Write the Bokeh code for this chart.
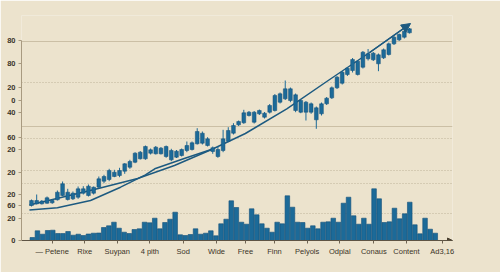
from bokeh.plotting import figure
from bokeh.models import (Range1d, FixedTicker, LinearAxis, Grid, Arrow,
                          NormalHead, ColumnDataSource)
from bokeh.embed import file_html
from bokeh.resources import INLINE

# ---------------- data ----------------
# candles: high, body top, body bottom, low
c_high = [41, 46, 40.5, 44, 41, 50, 59, 51.7, 49, 54, 54.3, 56, 54, 64, 65.7, 71.7, 70.7, 72.7,
          77.3, 80.7, 88.3, 89.5, 95, 92, 94.5, 93.5, 95, 91.7, 90.5, 92, 99, 99, 112.3, 109,
          103.3, 94, 94, 110.7, 113.3, 117.3, 120, 130.7, 129.5, 129.5, 131, 128.5, 136.5,
          146.5, 148, 160, 153, 147, 141, 139.5, 138, 134, 138, 143.5, 154, 164.5, 169.5,
          173.5, 182.5, 180.5, 189.5, 191.5, 188.5, 187, 192, 198, 204.5, 207, 210.5, 212.5]
c_top = [40, 40, 39.3, 42.7, 40, 48.3, 56.7, 48.3, 47.3, 51.7, 51.7, 54.3, 53.3, 61.7, 64, 70,
         68.3, 70, 76.7, 79, 87.3, 88.3, 94, 90.7, 93.3, 92.3, 94, 90, 89.3, 91, 95, 97.7, 109,
         107.3, 101.7, 92.7, 91, 101.7, 110, 115, 119, 127.7, 128.3, 128.3, 130, 127.3, 135,
         145, 146.7, 151.7, 151.7, 145.7, 140, 138.3, 136.7, 132.7, 136.7, 142.3, 152.7, 163.3,
         168.3, 172.3, 181, 179.3, 188.3, 186.7, 187.3, 185.7, 190.7, 196.7, 203.3, 206, 209.3,
         211.7]
c_bot = [35, 36.7, 36.7, 37.3, 37.7, 40.7, 45, 41, 41.7, 43.3, 47.3, 45, 47.3, 53.3, 59.3, 61,
         64, 65, 69.3, 73.3, 78.3, 81.7, 81.7, 87.3, 86.7, 86.7, 84, 80.7, 83.3, 85, 90, 91, 96.7,
         97.3, 95, 89, 84, 90, 99.3, 107.3, 115.7, 117.7, 125, 118.3, 126.7, 123.3, 128.3, 130,
         138.3, 141.7, 140, 130, 128.3, 128.3, 128.3, 120.7, 126.7, 136.7, 142.7, 152.7, 157.3,
         166, 170, 166, 173.3, 181.7, 180.7, 176.7, 182.7, 186, 196.7, 200.7, 203.3, 207.7]
c_low = [34, 36, 36, 36.7, 36.7, 40, 44.3, 40, 40.5, 41.7, 46, 44, 46, 52.7, 57.3, 59.3, 63.3,
         63.3, 66.7, 71.7, 77.3, 81, 80.7, 86, 86, 86, 82.7, 79.3, 82.5, 84, 88.3, 90, 96, 96, 94,
         86.7, 82.7, 88.3, 98.3, 106, 114.5, 116.7, 124, 117, 125.5, 122, 127, 129, 137, 140.5,
         138.3, 128.3, 127.3, 120, 126.7, 111.7, 125, 135.5, 141.5, 151.5, 156, 164.5, 168, 165,
         172, 180, 179.5, 169.3, 181.5, 185, 195.5, 199.5, 202, 207]
c_x = list(range(len(c_high)))

# volume bars
volume = [3, 9.7, 6.3, 10, 10.3, 7, 7, 9, 5.3, 6.3, 5, 6.5, 7.3, 7.5, 13, 14.7, 18.3, 12.3, 8.3,
          7, 11, 11.7, 18.3, 17.7, 22.3, 11.7, 18, 21.3, 28.3, 5.7, 5, 6, 11.7, 6.3, 7.3, 9.7,
          4.7, 16.7, 21.3, 39.7, 33, 18.3, 16.3, 31.7, 25.7, 16.7, 12.3, 8.3, 18.3, 16.7, 44.7,
          33.3, 18.3, 18, 12.3, 14.7, 11.7, 18.3, 18.7, 22.3, 18.3, 37.3, 43.3, 24.7, 16.3, 22.3,
          16.3, 51.7, 41.7, 18, 18.7, 32.3, 21.7, 26.7, 38.3, 15.7, 6.7, 22.3, 11.3, 7.3]
v_x = list(range(len(volume)))

# trend lines (candle index, value)
trend1_x = [-0.4, 5.3, 12.9, 20.5, 27.6, 35]
trend1_y = [35.5, 42.5, 52, 62, 75, 91.5]
trend2_x = [-0.4, 5, 11.4, 17.2, 22, 23.8, 29.5, 35, 41.3, 49.3, 57.3, 65.3, 72.4]
trend2_y = [30.5, 32.7, 40, 53.3, 65.7, 71.7, 82, 91.5, 107, 131.7, 160, 188, 214]

# axis labels
x_labels = ["— Petene", "Rixe", "Suypan", "4 pith", "Sod", "Wide", "Free", "Finn",
            "Pelyols", "Odplal", "Conaus", "Content", "Ad3,16"]
y_labels = ["80", "80", "20", "0", "40", "60", "20", "20", "20", "60", "20", "0"]

# ---------------- layout ----------------
x_tick_pos = [3.89, 10.28, 16.64, 23.03, 29.58, 36.1, 41.79, 47.48, 53.89, 60.28, 66.95,
              73.36, 80.36]
y_tick_pos = [200, 177, 153, 140, 128, 103, 91, 68, 46, 35, 22, 0]
solid_grid = [199, 114]
dotted_grid = [158, 102, 70, 57, 27]

BG = "#ece3cd"
BLUE = "#1c6a98"
EDGE = "#134f78"
LINE = "#1d5a80"
TXT = "#3b3328"

p = figure(width=500, height=272, output_backend="svg", toolbar_location=None,
           x_axis_type=None, y_axis_type=None,
           x_range=Range1d(-1.931, 81.3), y_range=Range1d(0, 225),
           min_border_left=21, min_border_right=48, min_border_top=15, min_border_bottom=32,
           background_fill_color=BG, border_fill_color=BG, outline_line_color=None)
p.extra_x_ranges = {"bars": Range1d(-2.127, 82.38)}

# grid lines
g1 = Grid(dimension=1, ticker=FixedTicker(ticks=solid_grid),
          grid_line_color="#cbbfa5", grid_line_width=1)
g2 = Grid(dimension=1, ticker=FixedTicker(ticks=dotted_grid),
          grid_line_color="#bfb398", grid_line_width=1, grid_line_dash="1 2")
p.add_layout(g1)
p.add_layout(g2)

# volume bars
vsrc = ColumnDataSource(dict(x=v_x, vol=volume))
p.vbar(x="x", top="vol", bottom=0, width=0.9, source=vsrc, x_range_name="bars",
       fill_color=BLUE, line_color=EDGE, line_width=0.6)

# trend lines
p.line(trend1_x, trend1_y, line_color=LINE, line_width=1.5)
p.line(trend2_x, trend2_y, line_color=LINE, line_width=1.5)
p.add_layout(Arrow(end=NormalHead(size=9, fill_color=LINE, line_color=LINE),
                   x_start=trend2_x[-2], y_start=trend2_y[-2],
                   x_end=trend2_x[-1] + 0.8, y_end=trend2_y[-1] + 3,
                   line_color=LINE, line_width=1.5))

# candles
csrc = ColumnDataSource(dict(x=c_x, high=c_high, low=c_low, top=c_top, bot=c_bot))
p.segment(x0="x", y0="low", x1="x", y1="high", source=csrc, line_color=BLUE, line_width=1)
p.vbar(x="x", top="top", bottom="bot", width=0.72, source=csrc,
       fill_color=BLUE, line_color=EDGE, line_width=0.5)

# axes
yaxis = LinearAxis(ticker=FixedTicker(ticks=y_tick_pos),
                   major_label_overrides={t: l for t, l in zip(y_tick_pos, y_labels)},
                   bounds=(0, 200))
yaxis.axis_line_color = "#a89a80"
yaxis.major_tick_line_color = "#a89a80"
yaxis.major_tick_out = 3
yaxis.major_tick_in = 0
yaxis.minor_tick_line_color = None
yaxis.major_label_standoff = 3
yaxis.major_label_text_font = "Liberation Sans"
yaxis.major_label_text_font_style = "bold"
yaxis.major_label_text_font_size = "7.5px"
yaxis.major_label_text_color = TXT
p.add_layout(yaxis, "left")

xaxis = LinearAxis(x_range_name="bars", ticker=FixedTicker(ticks=x_tick_pos),
                   major_label_overrides={t: l for t, l in zip(x_tick_pos, x_labels)})
xaxis.axis_line_color = "#5e5444"
xaxis.major_tick_line_color = "#6e6352"
xaxis.major_tick_out = 3
xaxis.major_tick_in = 0
xaxis.minor_tick_line_color = None
xaxis.major_label_standoff = 3
xaxis.major_label_text_font = "Liberation Sans"
xaxis.major_label_text_font_size = "7.5px"
xaxis.major_label_text_color = TXT
p.add_layout(xaxis, "below")

# arrow head at the end of the x axis
p.add_layout(Arrow(end=NormalHead(size=5, fill_color="#4a4030", line_color="#4a4030"),
                   x_start=80.5, y_start=0, x_end=82.38, y_end=0, x_range_name="bars",
                   line_color="#5e5444", line_width=1))

open("out.html", "w").write(file_html(p, INLINE))
